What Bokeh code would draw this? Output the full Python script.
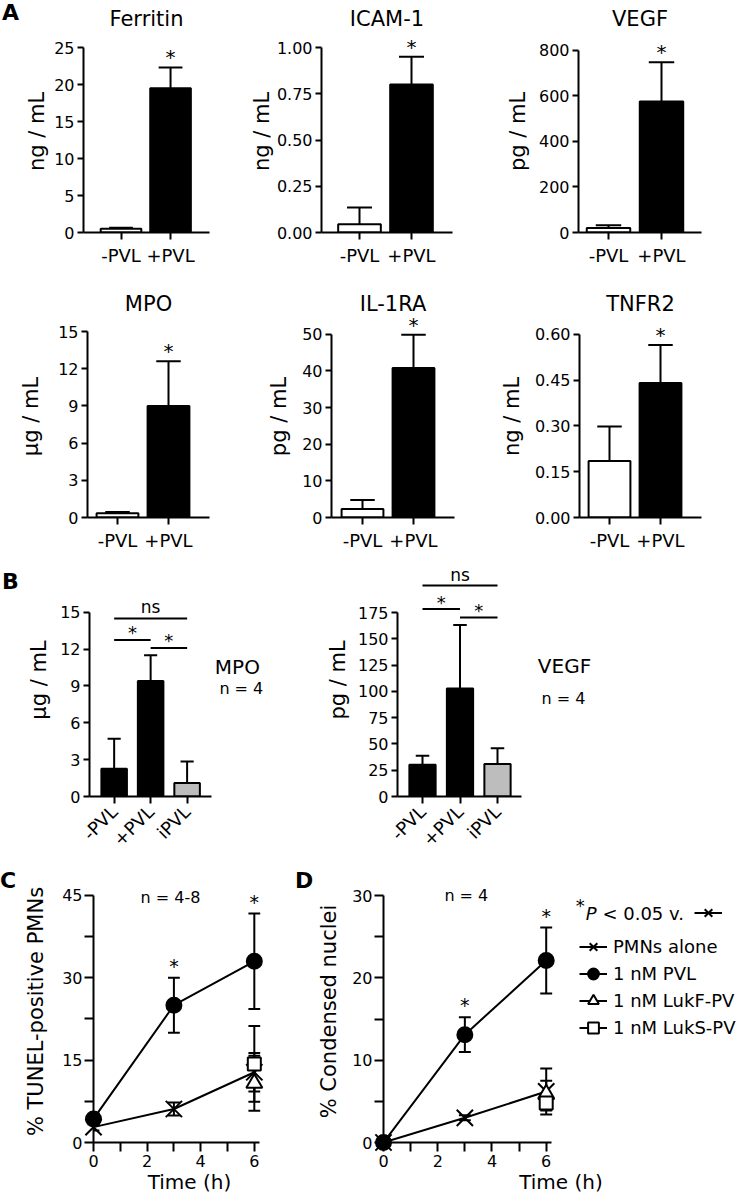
import math
from bokeh.plotting import figure
from bokeh.models import (Range1d, FixedTicker, Label, Legend, LegendItem,
                          NumeralTickFormatter, Div)
from bokeh.layouts import row, column
from bokeh.embed import file_html
from bokeh.resources import INLINE
from bokeh.core.properties import value

FONT = "DejaVu Sans"

# ---------------- DATA ----------------
groups_a = ["-PVL", "+PVL"]
ferritin = [0.5, 19.5]
ferritin_err = [0.15, 2.8]
icam1 = [0.045, 0.80]
icam1_err = [0.09, 0.15]
vegf = [20, 575]
vegf_err = [12, 173]
mpo = [0.35, 9.0]
mpo_err = [0.1, 3.6]
il1ra = [2.3, 40.8]
il1ra_err = [2.5, 9.1]
tnfr2 = [0.185, 0.44]
tnfr2_err = [0.113, 0.125]
sig_a = ["", "*"]

ticks_ferritin = [0, 5, 10, 15, 20, 25]
ticks_icam1 = [0, 0.25, 0.5, 0.75, 1.0]
ticks_vegf = [0, 200, 400, 600, 800]
ticks_mpo = [0, 3, 6, 9, 12, 15]
ticks_il1ra = [0, 10, 20, 30, 40, 50]
ticks_tnfr2 = [0, 0.15, 0.30, 0.45, 0.60]

groups_b = ["-PVL", "+PVL", "iPVL"]
mpo_b = [2.25, 9.4, 1.1]
mpo_b_err = [2.45, 2.1, 1.75]
vegf_b = [30.1, 102.7, 30.8]
vegf_b_err = [8.6, 60.3, 15.2]
ticks_mpo_b = [0, 3, 6, 9, 12, 15]
ticks_vegf_b = [0, 25, 50, 75, 100, 125, 150, 175]
comparisons_b = [(0, 2, "ns"), (0, 1, "*"), (1, 2, "*")]
mpo_b_bracket = [14.5, 12.75, 12.1]
vegf_b_bracket = [200.6, 178.3, 170.3]

time_h = [0, 3, 6]
tunel_pmn = [2.8, 6.1, 12.8]
tunel_pmn_err = [0.6, 1.2, 3.5]
tunel_pvl = [4.3, 25.0, 33.0]
tunel_pvl_err = [1.0, 5.0, 8.7]
tunel_lukf_t = [6]
tunel_lukf = [10.8]
tunel_lukf_err = [5.0]
tunel_luks_t = [6]
tunel_luks = [14.3]
tunel_luks_err = [6.9]
tunel_sig = ["", "*", "*"]

cond_pmn = [0, 3.0, 6.2]
cond_pmn_err = [0.2, 0.3, 2.8]
cond_pvl = [0, 13.1, 22.1]
cond_pvl_err = [0.2, 2.1, 4.0]
cond_lukf_t = [6]
cond_lukf = [5.9]
cond_lukf_err = [1.6]
cond_luks_t = [6]
cond_luks = [4.8]
cond_luks_err = [0.9]
cond_sig = ["", "*", "*"]

ticks_time = [0, 2, 4, 6]
minor_time = [1, 3, 5]
ticks_tunel = [0, 15, 30, 45]
minor_tunel = [7.5, 22.5, 37.5]
ticks_cond = [0, 10, 20, 30]
minor_cond = [5, 15, 25]

legend_labels = ["PMNs alone", "1 nM PVL", "1 nM LukF-PV", "1 nM LukS-PV"]


# ---------------- HELPERS ----------------
def px_map(pa, va, pb, vb):
    k = (vb - va) / (pb - pa)
    return lambda px: va + (px - pa) * k


def make_fig(box, frame, xcal, ycal):
    x0, x1, y0, y1 = box
    l, r, t, b = frame
    fx = px_map(xcal[0][0], xcal[0][1], xcal[1][0], xcal[1][1])
    fy = px_map(ycal[0][0], ycal[0][1], ycal[1][0], ycal[1][1])
    p = figure(width=x1 - x0, height=y1 - y0,
               x_range=Range1d(fx(l), fx(r)), y_range=Range1d(fy(b), fy(t)),
               min_border_left=l - x0, min_border_right=x1 - r,
               min_border_top=t - y0, min_border_bottom=y1 - b,
               output_backend="svg", toolbar_location=None)
    p.outline_line_color = None
    p.xgrid.visible = False
    p.ygrid.visible = False
    p.background_fill_color = "white"
    p.border_fill_color = "white"
    return p, fx, fy


def style_axes(p, ytick_out=6, xtick_out=7, ylab_standoff=4, xlab_size="18px"):
    for ax in p.axis:
        ax.axis_line_width = 2
        ax.axis_line_color = "black"
        ax.major_tick_line_width = 2
        ax.minor_tick_line_width = 2
        ax.major_tick_line_color = "black"
        ax.minor_tick_line_color = "black"
        ax.major_tick_in = 0
        ax.minor_tick_in = 0
        ax.major_label_text_font = FONT
        ax.major_label_text_color = "black"
        ax.axis_label_text_font = FONT
        ax.axis_label_text_font_style = "normal"
        ax.axis_label_text_color = "black"
    for ax in p.yaxis:
        ax.major_tick_out = ytick_out
        ax.minor_tick_out = ytick_out
        ax.major_label_standoff = 3
        ax.major_label_text_font_size = "16px"
        ax.axis_label_text_font_size = "21px"
        ax.axis_label_standoff = ylab_standoff
    for ax in p.xaxis:
        ax.major_tick_out = xtick_out
        ax.minor_tick_out = xtick_out
        ax.major_label_standoff = 5
        ax.major_label_text_font_size = xlab_size


def add_label(p, fx, fy, px, py, text, size, align="center", baseline="middle",
              style="normal"):
    p.add_layout(Label(x=fx(px), y=fy(py), text=text, text_align=align,
                       text_baseline=baseline, text_font=FONT,
                       text_font_size=f"{size}px", text_font_style=style,
                       text_color="black"))


def letter(text, width, height, top, left=0):
    return Div(text=(f'<div style="font-family:\'DejaVu Sans\';font-weight:bold;'
                     f'font-size:22px;line-height:22px;padding-top:{top}px;'
                     f'padding-left:{left}px;color:black">{text}</div>'),
               width=width, height=height, margin=(0, 0, 0, 0))


def stars(p, xs, ys, marks, size, yoff):
    sx = [x for x, m in zip(xs, marks) if m]
    sy = [y for y, m in zip(ys, marks) if m]
    st = [m for m in marks if m]
    p.text(x=sx, y=sy, text=st, text_align="center", text_baseline="middle",
           text_font=value(FONT), text_font_size=value(f"{size}px"),
           text_color="black", y_offset=yoff)


def panel_a(box, frame, xcal, ycal, title, toff, ylabel, ticks, fmt, means, errs,
            ylab_so):
    p, fx, fy = make_fig(box, frame, xcal, ycal)
    xs = list(range(1, len(groups_a) + 1))
    tops = [m + e for m, e in zip(means, errs)]
    hw = 0.24
    p.segment(x0=xs, y0=means, x1=xs, y1=tops, line_color="black", line_width=2)
    p.segment(x0=[x - hw for x in xs], y0=tops, x1=[x + hw for x in xs], y1=tops,
              line_color="black", line_width=2)
    p.vbar(x=xs, top=means, bottom=0, width=0.82, fill_color=["white", "black"],
           line_color="black", line_width=2)
    stars(p, xs, tops, sig_a, 20, -10)
    p.yaxis.ticker = FixedTicker(ticks=ticks)
    p.yaxis.formatter = NumeralTickFormatter(format=fmt)
    p.yaxis.bounds = (0, ticks[-1])
    p.yaxis.axis_label = ylabel
    p.xaxis.ticker = FixedTicker(ticks=xs)
    p.xaxis.major_label_overrides = {x: g for x, g in zip(xs, groups_a)}
    style_axes(p, ylab_standoff=ylab_so)
    p.title.text = title
    p.title.align = "center"
    p.title.text_font = FONT
    p.title.text_font_size = "21px"
    p.title.text_font_style = "normal"
    p.title.text_color = "black"
    p.title.standoff = 0
    p.title.offset = toff
    return p


def panel_b(box, frame, xcal, ycal, axis_end, ylabel, ticks, means, errs, brackets,
            name, npos, nnpos, ylab_so):
    p, fx, fy = make_fig(box, frame, xcal, ycal)
    xs = list(range(1, len(groups_b) + 1))
    tops = [m + e for m, e in zip(means, errs)]
    hw = 0.18
    p.segment(x0=xs, y0=means, x1=xs, y1=tops, line_color="black", line_width=2)
    p.segment(x0=[x - hw for x in xs], y0=tops, x1=[x + hw for x in xs], y1=tops,
              line_color="black", line_width=2)
    p.vbar(x=xs, top=means, bottom=0, width=0.70,
           fill_color=["black", "black", "#bdbdbd"],
           line_color="black", line_width=2)
    bx0 = [xs[i] for i, j, s in comparisons_b]
    bx1 = [xs[j] for i, j, s in comparisons_b]
    p.segment(x0=bx0, y0=brackets, x1=bx1, y1=brackets, line_color="black",
              line_width=2)
    mid = [(a + b) / 2 for a, b in zip(bx0, bx1)]
    labs = [s for i, j, s in comparisons_b]
    ns_x = [m for m, s in zip(mid, labs) if s == "ns"]
    ns_y = [h for h, s in zip(brackets, labs) if s == "ns"]
    p.text(x=ns_x, y=ns_y, text=["ns"] * len(ns_x), text_align="center",
           text_baseline="middle", text_font=value(FONT), text_color="black",
           text_font_size=value("17px"), y_offset=-11)
    st_x = [m for m, s in zip(mid, labs) if s == "*"]
    st_y = [h for h, s in zip(brackets, labs) if s == "*"]
    p.text(x=st_x, y=st_y, text=["*"] * len(st_x), text_align="center",
           text_baseline="middle", text_font=value(FONT), text_color="black",
           text_font_size=value("18px"), y_offset=-7)
    p.yaxis.ticker = FixedTicker(ticks=ticks)
    p.yaxis.formatter = NumeralTickFormatter(format="0")
    p.yaxis.bounds = (0, ticks[-1])
    p.yaxis.axis_label = ylabel
    p.xaxis.ticker = FixedTicker(ticks=xs)
    p.xaxis.major_label_overrides = {x: g for x, g in zip(xs, groups_b)}
    p.xaxis.major_label_orientation = math.pi / 4
    p.xaxis.bounds = (fx(frame[0]), fx(axis_end))
    style_axes(p, ylab_standoff=ylab_so)
    add_label(p, fx, fy, npos[0], npos[1], name, 20)
    add_label(p, fx, fy, nnpos[0], nnpos[1], "n = 4", 16)
    return p


def series(p, t, m, e, marker, fill, size, hw):
    lo = [a - b for a, b in zip(m, e)]
    hi = [a + b for a, b in zip(m, e)]
    rl = p.line(t, m, line_color="black", line_width=2)
    p.segment(x0=t, y0=lo, x1=t, y1=hi, line_color="black", line_width=2)
    p.segment(x0=[x - hw for x in t], y0=hi, x1=[x + hw for x in t], y1=hi,
              line_color="black", line_width=2)
    p.segment(x0=[x - hw for x in t], y0=lo, x1=[x + hw for x in t], y1=lo,
              line_color="black", line_width=2)
    rs = p.scatter(t, m, marker=marker, size=size, fill_color=fill,
                   line_color="black", line_width=2, level="overlay")
    return [rl, rs]


def panel_time(box, frame, xcal, ycal, ylabel, ticks, minor, bound, ylab_so,
               pmn, pmn_e, pvl, pvl_e, lf_t, lf, lf_e, ls_t, ls, ls_e, sig):
    p, fx, fy = make_fig(box, frame, xcal, ycal)
    hw = 0.22
    r_pmn = series(p, time_h, pmn, pmn_e, "x", "black", 23, hw)
    r_lf = series(p, lf_t, lf, lf_e, "triangle", "white", 16, hw)
    r_ls = series(p, ls_t, ls, ls_e, "square", "white", 13, hw)
    r_pvl = series(p, time_h, pvl, pvl_e, "circle", "black", 15, hw)
    tops = [a + b for a, b in zip(pvl, pvl_e)]
    stars(p, time_h, tops, sig, 19, -12)
    p.yaxis.ticker = FixedTicker(ticks=ticks, minor_ticks=minor)
    p.yaxis.formatter = NumeralTickFormatter(format="0")
    p.yaxis.bounds = (0, ticks[-1])
    p.yaxis.axis_label = ylabel
    p.xaxis.ticker = FixedTicker(ticks=ticks_time, minor_ticks=minor_time)
    p.xaxis.formatter = NumeralTickFormatter(format="0")
    p.xaxis.bounds = (0, bound)
    p.xaxis.axis_label = "Time (h)"
    style_axes(p, ytick_out=9, xtick_out=9, ylab_standoff=ylab_so, xlab_size="16px")
    for ax in p.yaxis:
        ax.major_label_standoff = 2
    for ax in p.xaxis:
        ax.major_label_standoff = 3
        ax.axis_label_standoff = 0
        ax.axis_label_text_font_size = "20px"
    return p, fx, fy, r_pmn, r_pvl, r_lf, r_ls


# ---------------- PANEL A ----------------
f1 = panel_a((22, 245, 0, 275), (78, 209, 30, 232), ((117, 1), (168.5, 2)),
             ((232, 0), (47, 25)), "Ferritin", 0, "ng / mL",
             ticks_ferritin, "0", ferritin, ferritin_err, 2)
f2 = panel_a((245, 490, 0, 275), (321, 452, 30, 232), ((359, 1), (411, 2)),
             ((232, 0), (47, 1.0)), "ICAM-1", 9, "ng / mL",
             ticks_icam1, "0.00", icam1, icam1_err, 0)
f3 = panel_a((490, 742, 0, 275), (578, 701, 30, 234), ((608, 1), (661, 2)),
             ((234, 0), (50, 800)), "VEGF", -5, "pg / mL",
             ticks_vegf, "0", vegf, vegf_err, 6)
f4 = panel_a((0, 245, 275, 560), (87, 209, 315, 517), ((117, 1), (168, 2)),
             ((517, 0), (331, 15)), "MPO", -2, "\u00b5g / mL",
             ticks_mpo, "0", mpo, mpo_err, 12)
f5 = panel_a((245, 490, 275, 560), (331, 454, 315, 519), ((362, 1), (413, 2)),
             ((519, 0), (334, 50)), "IL-1RA", -5, "pg / mL",
             ticks_il1ra, "0", il1ra, il1ra_err, 8)
f6 = panel_a((490, 742, 275, 560), (579, 701, 315, 520), ((609, 1), (660, 2)),
             ((520, 0), (334, 0.6)), "TNFR2", -6, "ng / mL",
             ticks_tnfr2, "0.00", tnfr2, tnfr2_err, 8)

# ---------------- PANEL B ----------------
b1 = panel_b((24, 320, 560, 865), (86, 300, 563, 797), ((111, 1), (148, 2)),
             ((797, 0), (612, 15)), 210, "\u00b5g / mL", ticks_mpo_b,
             mpo_b, mpo_b_err, mpo_b_bracket, "MPO", (236, 667), (240, 689), 6)
b2 = panel_b((320, 742, 560, 865), (397, 735, 563, 796), ((422, 1), (459.5, 2)),
             ((796, 0), (612, 175)), 521, "pg / mL", ticks_vegf_b,
             vegf_b, vegf_b_err, vegf_b_bracket, "VEGF", (564, 665), (563, 698), 5)

# ---------------- PANEL C ----------------
c, cx, cy, *_ = panel_time((21, 292, 865, 1202), (88, 285, 880, 1143),
                           ((88, 0), (253, 6)), ((1143, 0), (895, 45)),
                           "% TUNEL-positive PMNs", ticks_tunel, minor_tunel, 6.2, 11,
                           tunel_pmn, tunel_pmn_err, tunel_pvl, tunel_pvl_err,
                           tunel_lukf_t, tunel_lukf, tunel_lukf_err,
                           tunel_luks_t, tunel_luks, tunel_luks_err, tunel_sig)
add_label(c, cx, cy, 167, 897, "n = 4-8", 16)

# ---------------- PANEL D ----------------
d, dx, dy, r_pmn, r_pvl, r_lf, r_ls = panel_time(
    (314, 742, 865, 1202), (378, 738, 880, 1142),
    ((378, 0), (543, 6)), ((1142, 0), (895, 30)),
    "% Condensed nuclei", ticks_cond, minor_cond, 6.2, 8,
    cond_pmn, cond_pmn_err, cond_pvl, cond_pvl_err,
    cond_lukf_t, cond_lukf, cond_lukf_err,
    cond_luks_t, cond_luks, cond_luks_err, cond_sig)
add_label(d, dx, dy, 462, 895, "n = 4", 16)

legend = Legend(items=[LegendItem(label=value(t), renderers=r)
                       for t, r in zip(legend_labels, [r_pmn, r_pvl, r_lf, r_ls])],
                location=(196, 101), orientation="vertical",
                border_line_alpha=0, background_fill_alpha=0,
                padding=0, margin=0, spacing=0,
                glyph_width=28, glyph_height=27, label_height=27,
                label_standoff=6, label_text_font=FONT, label_text_font_size="18px",
                label_text_color="black")
d.add_layout(legend)
head = Legend(items=[LegendItem(label=value(" "), renderers=r_pmn)],
              location=(311, 216), border_line_alpha=0, background_fill_alpha=0,
              padding=0, margin=0, spacing=0, glyph_width=28, glyph_height=27,
              label_height=27, label_standoff=0, label_text_font_size="4px")
d.add_layout(head)
add_label(d, dx, dy, 573, 905, "*", 18, align="left")
add_label(d, dx, dy, 583, 913, "P", 18, align="left", style="italic")
add_label(d, dx, dy, 600, 913, "< 0.05 v.", 18, align="left")

layout = column(
    row(letter("A", 22, 275, 2, 2), f1, f2, f3),
    row(f4, f5, f6),
    row(letter("B", 24, 305, 11, 2), b1, b2),
    row(letter("C", 21, 337, 5, 0), c, letter("D", 22, 337, 5, 3), d),
)
open("out.html", "w").write(file_html(layout, INLINE))
